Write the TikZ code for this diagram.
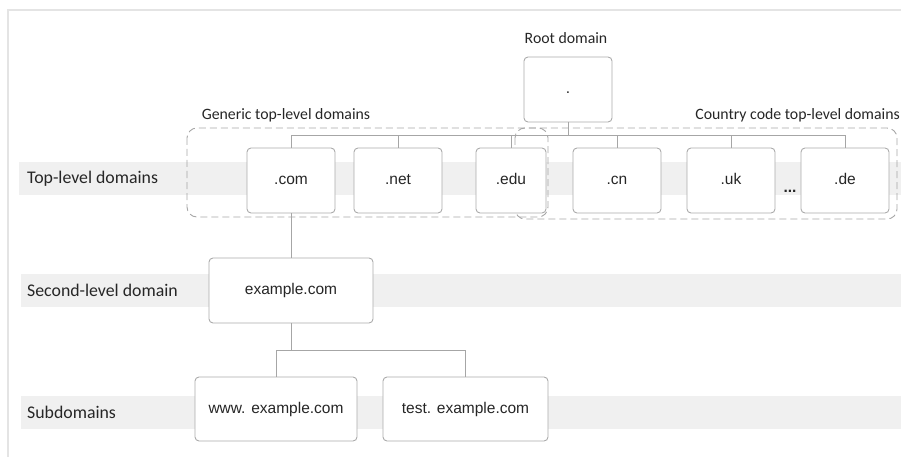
\documentclass[tikz,border=0pt]{standalone}
\usepackage{fontspec}
\setmainfont{Liberation Sans}
\newfontfamily\labelfont{Carlito}
\usetikzlibrary{positioning}
\definecolor{boxgray}{HTML}{ABABAB}
\definecolor{linegray}{HTML}{A6A6A6}
\definecolor{bandgray}{HTML}{F0F0F0}
\definecolor{framegray}{HTML}{E4E4E4}
\definecolor{inkgray}{HTML}{262626}

\begin{document}
\begin{tikzpicture}[
    x = 1pt, y = 1pt,
node distance = 107pt, on grid,
dom/.style   = {draw=boxgray, fill=white, line width=0.9pt, rounded corners=4pt,
                minimum width=88pt, minimum height=65pt, inner sep=0pt,
                text height=11.5pt, text depth=3.5pt,
                text=inkgray, font=\fontsize{15.5}{18}\selectfont},
lbl/.style   = {inner sep=0pt, text=inkgray, font=\labelfont\fontsize{15.8}{19}\selectfont},
level/.style = {lbl, anchor=west, font=\labelfont\fontsize{17.8}{21}\selectfont},
conn/.style  = {draw=linegray, line width=0.9pt},
group/.style = {draw=linegray, line width=0.9pt, dashed, dash pattern=on 7pt off 4pt,
                rounded corners=10pt},
band/.style  = {fill=bandgray},
                    ]
\useasboundingbox (0,0) rectangle (901,-457);
% frame and level bands
\draw[framegray, line width=1.4pt] (8,-457) -- (8,-10) -- (901,-10);
\fill[band] (19,-162) rectangle (901,-195);
\fill[band] (21,-274) rectangle (901,-306.5);
\fill[band] (21,-396) rectangle (901,-428.5);
%
\node[level] (tld lbl) at (27,-179) {Top-level domains};
\node[level] (sld lbl) at (27,-290.5) {Second-level domain};
\node[level] (sub lbl) at (27,-412.5) {Subdomains};
% groups
\draw[group] (187,-128) rectangle (548,-217);
\draw[group] (515,-128) rectangle (897,-219);
\node[lbl] (gtld lbl) at (286,-115) {Generic top-level domains};
\node[lbl, anchor=east] (cctld lbl) at (900,-115) {Country code top-level domains};
% nodes
\node[dom] (root) at (568,-89.5) {.};
\node[lbl] (root lbl) at (566,-38) {Root domain};
\node[dom] (com) at (291,-180.5) {.com};
\node[dom] (net) [right=of com] {.net};
\node[dom, minimum width=70pt] (edu) [right=113pt of net] {.edu};
\node[dom] (cn) [right=106pt of edu] {.cn};
\node[dom] (uk) [right=114pt of cn] {.uk};
\node[dom] (de) [right=114pt of uk] {.de};
\node[inner sep=0pt, anchor=base, text=inkgray, font=\fontsize{15.5}{18}\selectfont\bfseries]
    (more) at (790,-192) {...};
\node[dom, minimum width=164pt] (example) [below=110pt of com] {example.com};
\node[dom, minimum width=162pt, minimum height=64pt] (www) at (276,-409) {www. example.com};
\node[dom, minimum width=165pt, minimum height=64pt] (test) at (465.5,-409) {test. example.com};
% connectors
\draw[conn] (root.south) -- ++(0,-13) coordinate (root j);
\foreach \tld in {com,net,edu,cn,uk,de}
    \draw[conn] (root j) -| (\tld.north);
\draw[conn] (com.south) -- (example.north);
\draw[conn] (example.south) -- ++(0,-27) coordinate (example j);
\foreach \sub in {www,test}
    \draw[conn] (example j) -| (\sub.north);
%
\end{tikzpicture}
\end{document}
